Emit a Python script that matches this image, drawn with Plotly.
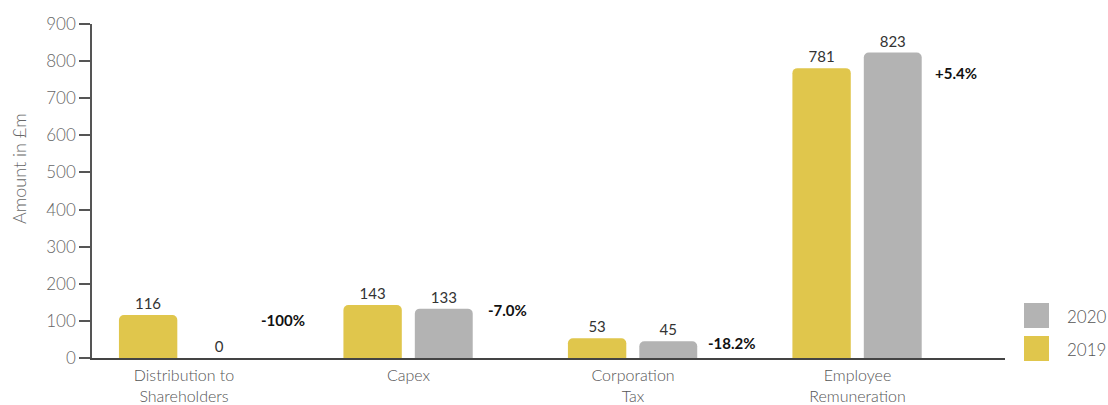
import plotly.graph_objects as go
import numpy as np

categories = ["Distribution to<br>Shareholders", "Capex", "Corporation<br>Tax", "Employee<br>Remuneration"]
values_2019 = [116, 143, 53, 781]
values_2020 = [0, 133, 45, 823]
pct_labels = ["-100%", "-7.0%", "-18.2%", "+5.4%"]
y_ticks = [0, 100, 200, 300, 400, 500, 600, 700, 800, 900]
y_title = "Amount in £m"

C19 = "#E0C64C"
C20 = "#B3B3B3"
FONT = "Lato"

xi = np.arange(len(categories))

fig = go.Figure()
fig.add_trace(go.Bar(
    x=xi, y=values_2019, name="2019", offset=-0.29, width=0.26,
    marker=dict(color=C19, cornerradius=5, line=dict(width=0)),
    text=[str(v) for v in values_2019], textposition="outside",
    textfont=dict(family=FONT, size=15, color="#333", weight=400), cliponaxis=False,
    showlegend=False,
))
fig.add_trace(go.Bar(
    x=xi, y=values_2020, name="2020", offset=0.028, width=0.258,
    marker=dict(color=C20, cornerradius=5, line=dict(width=0)),
    text=[str(v) for v in values_2020], textposition="outside",
    textfont=dict(family=FONT, size=15, color="#333", weight=400), cliponaxis=False,
    showlegend=False,
))

for i, (lab, v) in enumerate(zip(pct_labels, values_2019)):
    fig.add_annotation(x=xi[i] + 0.44, y=v, text="<b>%s</b>" % lab, showarrow=False,
                       xanchor="center", yanchor="middle", yshift=-5,
                       font=dict(family=FONT, size=15, color="#111"))

# y-axis title (placed as in the reference, above the axis centre)
fig.add_annotation(xref="paper", yref="paper", x=-0.08, y=0.569, text=y_title, textangle=-90,
                   showarrow=False, xanchor="center", yanchor="middle",
                   font=dict(family=FONT, size=18, color="#666", weight=300))

# legend drawn manually (large square swatches)
legend_items = [("2020", C20, 0.1647, 0.0898, 0.1257), ("2019", C19, 0.0659, -0.009, 0.026)]
for name, col, y0, y1, ty in legend_items:
    fig.add_shape(type="rect", xref="paper", yref="paper", x0=1.0208, x1=1.0482,
                  y0=y1, y1=y0, fillcolor=col, line=dict(width=0))
    fig.add_annotation(xref="paper", yref="paper", x=1.0658, y=ty, text=name, showarrow=False,
                       xanchor="left", yanchor="middle",
                       font=dict(family=FONT, size=17, color="#555", weight=300))

fig.update_layout(
    width=1108, height=405,
    margin=dict(l=92, r=103, t=24, b=47, autoexpand=False),
    plot_bgcolor="white", paper_bgcolor="white",
    barmode="overlay",
    font=dict(family=FONT, color="#555"),
    showlegend=False,
)
fig.update_xaxes(
    range=[-0.41, 3.657], tickvals=xi, ticktext=categories, automargin=False,
    showline=True, linecolor="#444", linewidth=1.5, ticks="", showgrid=False, zeroline=False,
    tickfont=dict(family=FONT, size=16, color="#555", weight=300), ticklabelstandoff=2,
)
fig.update_yaxes(
    range=[0, 900], tickvals=y_ticks, showline=True, linecolor="#555", linewidth=1.5, automargin=False,
    ticks="outside", ticklen=11, tickcolor="#555", tickwidth=1.5, showgrid=False, zeroline=False,
    tickfont=dict(family=FONT, size=17, color="#666", weight=300),
)

fig.write_html("out.html")
